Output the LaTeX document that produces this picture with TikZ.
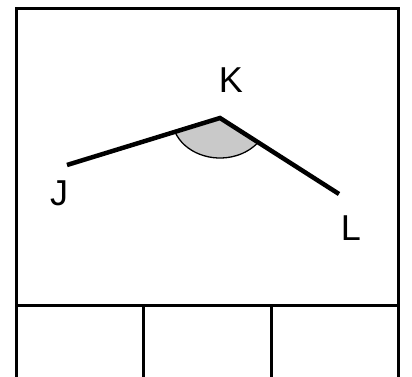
\documentclass[tikz,border=0pt]{standalone}
\usepackage{fontspec}
\setmainfont{Liberation Sans}
\begin{document}
\begin{tikzpicture}[x=1pt,y=1pt,
  frameline/.style={line width=3pt},
  ray/.style={line width=4.5pt},
  lbl/.style={inner sep=0pt,font=\fontsize{36}{40}\selectfont}]
\useasboundingbox (0,0) rectangle (412,377);
\begin{scope}
\clip (0,0) rectangle (412,377);
% frame
\draw[frameline] (16.5,-10) -- (16.5,368.5) -- (398.5,368.5) -- (398.5,-10);
\draw[frameline] (16.5,71.5) -- (398.5,71.5);
\draw[frameline] (143.5,71.5) -- (143.5,-10);
\draw[frameline] (271,71.5) -- (271,-10);
\end{scope}
% points
\coordinate (J) at (67,212);
\coordinate (K) at (220,259);
\coordinate (L) at (339,183);
% angle
\fill[gray!42] (K) -- ++(-45.1,-13.7) arc[start angle=200, end angle=322, x radius=48, y radius=40] -- cycle;
\draw[line width=1.3pt] (K) ++(-45.1,-13.7) arc[start angle=200, end angle=322, x radius=48, y radius=40];
% rays
\draw[ray] (J) -- (K) -- (L);
% labels
\node[lbl] (lJ) at (59,184) {J};
\node[lbl] (lK) at (231,297) {K};
\node[lbl] (lL) at (351,149) {L};
\end{tikzpicture}
\end{document}
